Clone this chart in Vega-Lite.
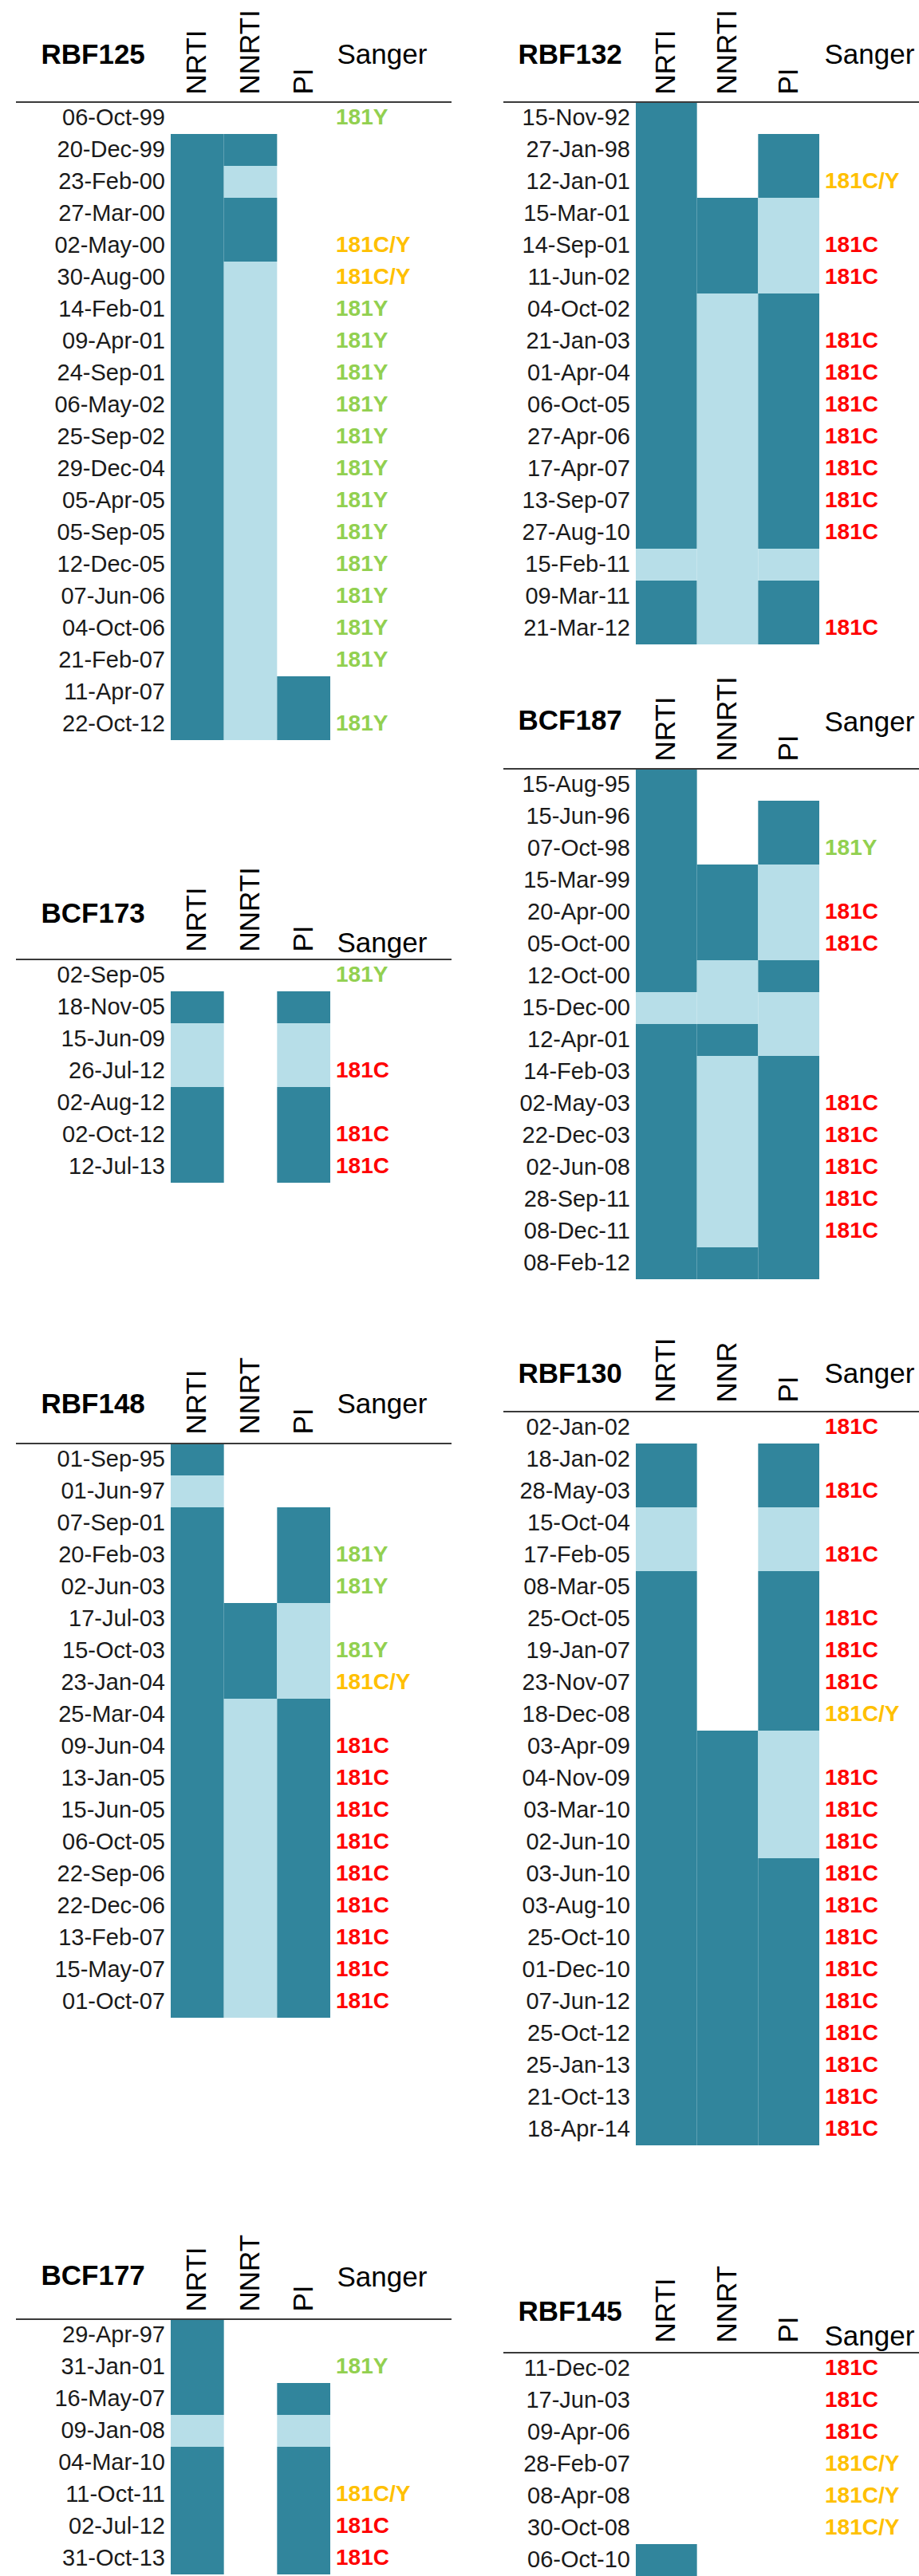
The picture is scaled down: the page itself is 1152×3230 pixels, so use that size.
{
  "$schema": "https://vega.github.io/schema/vega-lite/v6.json",
  "padding": {"left": 19, "top": 11, "right": 0, "bottom": 0},
  "autosize": {"type": "pad"},
  "config": {"font": "Liberation Sans", "view": {"stroke": null}, "axis": {"grid": false}},
  "data": {"values": [
    {"p":"RBF125","n":1,"date":"06-Oct-99","NRTI":"","NNRTI":"","PI":"","s":"181Y"},
    {"p":"RBF125","n":2,"date":"20-Dec-99","NRTI":"F","NNRTI":"F","PI":"","s":""},
    {"p":"RBF125","n":3,"date":"23-Feb-00","NRTI":"F","NNRTI":"P","PI":"","s":""},
    {"p":"RBF125","n":4,"date":"27-Mar-00","NRTI":"F","NNRTI":"F","PI":"","s":""},
    {"p":"RBF125","n":5,"date":"02-May-00","NRTI":"F","NNRTI":"F","PI":"","s":"181C/Y"},
    {"p":"RBF125","n":6,"date":"30-Aug-00","NRTI":"F","NNRTI":"P","PI":"","s":"181C/Y"},
    {"p":"RBF125","n":7,"date":"14-Feb-01","NRTI":"F","NNRTI":"P","PI":"","s":"181Y"},
    {"p":"RBF125","n":8,"date":"09-Apr-01","NRTI":"F","NNRTI":"P","PI":"","s":"181Y"},
    {"p":"RBF125","n":9,"date":"24-Sep-01","NRTI":"F","NNRTI":"P","PI":"","s":"181Y"},
    {"p":"RBF125","n":10,"date":"06-May-02","NRTI":"F","NNRTI":"P","PI":"","s":"181Y"},
    {"p":"RBF125","n":11,"date":"25-Sep-02","NRTI":"F","NNRTI":"P","PI":"","s":"181Y"},
    {"p":"RBF125","n":12,"date":"29-Dec-04","NRTI":"F","NNRTI":"P","PI":"","s":"181Y"},
    {"p":"RBF125","n":13,"date":"05-Apr-05","NRTI":"F","NNRTI":"P","PI":"","s":"181Y"},
    {"p":"RBF125","n":14,"date":"05-Sep-05","NRTI":"F","NNRTI":"P","PI":"","s":"181Y"},
    {"p":"RBF125","n":15,"date":"12-Dec-05","NRTI":"F","NNRTI":"P","PI":"","s":"181Y"},
    {"p":"RBF125","n":16,"date":"07-Jun-06","NRTI":"F","NNRTI":"P","PI":"","s":"181Y"},
    {"p":"RBF125","n":17,"date":"04-Oct-06","NRTI":"F","NNRTI":"P","PI":"","s":"181Y"},
    {"p":"RBF125","n":18,"date":"21-Feb-07","NRTI":"F","NNRTI":"P","PI":"","s":"181Y"},
    {"p":"RBF125","n":19,"date":"11-Apr-07","NRTI":"F","NNRTI":"P","PI":"F","s":""},
    {"p":"RBF125","n":20,"date":"22-Oct-12","NRTI":"F","NNRTI":"P","PI":"F","s":"181Y"},

    {"p":"RBF132","n":1,"date":"15-Nov-92","NRTI":"F","NNRTI":"","PI":"","s":""},
    {"p":"RBF132","n":2,"date":"27-Jan-98","NRTI":"F","NNRTI":"","PI":"F","s":""},
    {"p":"RBF132","n":3,"date":"12-Jan-01","NRTI":"F","NNRTI":"","PI":"F","s":"181C/Y"},
    {"p":"RBF132","n":4,"date":"15-Mar-01","NRTI":"F","NNRTI":"F","PI":"P","s":""},
    {"p":"RBF132","n":5,"date":"14-Sep-01","NRTI":"F","NNRTI":"F","PI":"P","s":"181C"},
    {"p":"RBF132","n":6,"date":"11-Jun-02","NRTI":"F","NNRTI":"F","PI":"P","s":"181C"},
    {"p":"RBF132","n":7,"date":"04-Oct-02","NRTI":"F","NNRTI":"P","PI":"F","s":""},
    {"p":"RBF132","n":8,"date":"21-Jan-03","NRTI":"F","NNRTI":"P","PI":"F","s":"181C"},
    {"p":"RBF132","n":9,"date":"01-Apr-04","NRTI":"F","NNRTI":"P","PI":"F","s":"181C"},
    {"p":"RBF132","n":10,"date":"06-Oct-05","NRTI":"F","NNRTI":"P","PI":"F","s":"181C"},
    {"p":"RBF132","n":11,"date":"27-Apr-06","NRTI":"F","NNRTI":"P","PI":"F","s":"181C"},
    {"p":"RBF132","n":12,"date":"17-Apr-07","NRTI":"F","NNRTI":"P","PI":"F","s":"181C"},
    {"p":"RBF132","n":13,"date":"13-Sep-07","NRTI":"F","NNRTI":"P","PI":"F","s":"181C"},
    {"p":"RBF132","n":14,"date":"27-Aug-10","NRTI":"F","NNRTI":"P","PI":"F","s":"181C"},
    {"p":"RBF132","n":15,"date":"15-Feb-11","NRTI":"P","NNRTI":"P","PI":"P","s":""},
    {"p":"RBF132","n":16,"date":"09-Mar-11","NRTI":"F","NNRTI":"P","PI":"F","s":""},
    {"p":"RBF132","n":17,"date":"21-Mar-12","NRTI":"F","NNRTI":"P","PI":"F","s":"181C"},

    {"p":"BCF173","n":1,"date":"02-Sep-05","NRTI":"","NNRTI":"","PI":"","s":"181Y"},
    {"p":"BCF173","n":2,"date":"18-Nov-05","NRTI":"F","NNRTI":"","PI":"F","s":""},
    {"p":"BCF173","n":3,"date":"15-Jun-09","NRTI":"P","NNRTI":"","PI":"P","s":""},
    {"p":"BCF173","n":4,"date":"26-Jul-12","NRTI":"P","NNRTI":"","PI":"P","s":"181C"},
    {"p":"BCF173","n":5,"date":"02-Aug-12","NRTI":"F","NNRTI":"","PI":"F","s":""},
    {"p":"BCF173","n":6,"date":"02-Oct-12","NRTI":"F","NNRTI":"","PI":"F","s":"181C"},
    {"p":"BCF173","n":7,"date":"12-Jul-13","NRTI":"F","NNRTI":"","PI":"F","s":"181C"},

    {"p":"BCF187","n":1,"date":"15-Aug-95","NRTI":"F","NNRTI":"","PI":"","s":""},
    {"p":"BCF187","n":2,"date":"15-Jun-96","NRTI":"F","NNRTI":"","PI":"F","s":""},
    {"p":"BCF187","n":3,"date":"07-Oct-98","NRTI":"F","NNRTI":"","PI":"F","s":"181Y"},
    {"p":"BCF187","n":4,"date":"15-Mar-99","NRTI":"F","NNRTI":"F","PI":"P","s":""},
    {"p":"BCF187","n":5,"date":"20-Apr-00","NRTI":"F","NNRTI":"F","PI":"P","s":"181C"},
    {"p":"BCF187","n":6,"date":"05-Oct-00","NRTI":"F","NNRTI":"F","PI":"P","s":"181C"},
    {"p":"BCF187","n":7,"date":"12-Oct-00","NRTI":"F","NNRTI":"P","PI":"F","s":""},
    {"p":"BCF187","n":8,"date":"15-Dec-00","NRTI":"P","NNRTI":"P","PI":"P","s":""},
    {"p":"BCF187","n":9,"date":"12-Apr-01","NRTI":"F","NNRTI":"F","PI":"P","s":""},
    {"p":"BCF187","n":10,"date":"14-Feb-03","NRTI":"F","NNRTI":"P","PI":"F","s":""},
    {"p":"BCF187","n":11,"date":"02-May-03","NRTI":"F","NNRTI":"P","PI":"F","s":"181C"},
    {"p":"BCF187","n":12,"date":"22-Dec-03","NRTI":"F","NNRTI":"P","PI":"F","s":"181C"},
    {"p":"BCF187","n":13,"date":"02-Jun-08","NRTI":"F","NNRTI":"P","PI":"F","s":"181C"},
    {"p":"BCF187","n":14,"date":"28-Sep-11","NRTI":"F","NNRTI":"P","PI":"F","s":"181C"},
    {"p":"BCF187","n":15,"date":"08-Dec-11","NRTI":"F","NNRTI":"P","PI":"F","s":"181C"},
    {"p":"BCF187","n":16,"date":"08-Feb-12","NRTI":"F","NNRTI":"F","PI":"F","s":""},

    {"p":"RBF148","n":1,"date":"01-Sep-95","NRTI":"F","NNRTI":"","PI":"","s":""},
    {"p":"RBF148","n":2,"date":"01-Jun-97","NRTI":"P","NNRTI":"","PI":"","s":""},
    {"p":"RBF148","n":3,"date":"07-Sep-01","NRTI":"F","NNRTI":"","PI":"F","s":""},
    {"p":"RBF148","n":4,"date":"20-Feb-03","NRTI":"F","NNRTI":"","PI":"F","s":"181Y"},
    {"p":"RBF148","n":5,"date":"02-Jun-03","NRTI":"F","NNRTI":"","PI":"F","s":"181Y"},
    {"p":"RBF148","n":6,"date":"17-Jul-03","NRTI":"F","NNRTI":"F","PI":"P","s":""},
    {"p":"RBF148","n":7,"date":"15-Oct-03","NRTI":"F","NNRTI":"F","PI":"P","s":"181Y"},
    {"p":"RBF148","n":8,"date":"23-Jan-04","NRTI":"F","NNRTI":"F","PI":"P","s":"181C/Y"},
    {"p":"RBF148","n":9,"date":"25-Mar-04","NRTI":"F","NNRTI":"P","PI":"F","s":""},
    {"p":"RBF148","n":10,"date":"09-Jun-04","NRTI":"F","NNRTI":"P","PI":"F","s":"181C"},
    {"p":"RBF148","n":11,"date":"13-Jan-05","NRTI":"F","NNRTI":"P","PI":"F","s":"181C"},
    {"p":"RBF148","n":12,"date":"15-Jun-05","NRTI":"F","NNRTI":"P","PI":"F","s":"181C"},
    {"p":"RBF148","n":13,"date":"06-Oct-05","NRTI":"F","NNRTI":"P","PI":"F","s":"181C"},
    {"p":"RBF148","n":14,"date":"22-Sep-06","NRTI":"F","NNRTI":"P","PI":"F","s":"181C"},
    {"p":"RBF148","n":15,"date":"22-Dec-06","NRTI":"F","NNRTI":"P","PI":"F","s":"181C"},
    {"p":"RBF148","n":16,"date":"13-Feb-07","NRTI":"F","NNRTI":"P","PI":"F","s":"181C"},
    {"p":"RBF148","n":17,"date":"15-May-07","NRTI":"F","NNRTI":"P","PI":"F","s":"181C"},
    {"p":"RBF148","n":18,"date":"01-Oct-07","NRTI":"F","NNRTI":"P","PI":"F","s":"181C"},

    {"p":"RBF130","n":1,"date":"02-Jan-02","NRTI":"","NNRTI":"","PI":"","s":"181C"},
    {"p":"RBF130","n":2,"date":"18-Jan-02","NRTI":"F","NNRTI":"","PI":"F","s":""},
    {"p":"RBF130","n":3,"date":"28-May-03","NRTI":"F","NNRTI":"","PI":"F","s":"181C"},
    {"p":"RBF130","n":4,"date":"15-Oct-04","NRTI":"P","NNRTI":"","PI":"P","s":""},
    {"p":"RBF130","n":5,"date":"17-Feb-05","NRTI":"P","NNRTI":"","PI":"P","s":"181C"},
    {"p":"RBF130","n":6,"date":"08-Mar-05","NRTI":"F","NNRTI":"","PI":"F","s":""},
    {"p":"RBF130","n":7,"date":"25-Oct-05","NRTI":"F","NNRTI":"","PI":"F","s":"181C"},
    {"p":"RBF130","n":8,"date":"19-Jan-07","NRTI":"F","NNRTI":"","PI":"F","s":"181C"},
    {"p":"RBF130","n":9,"date":"23-Nov-07","NRTI":"F","NNRTI":"","PI":"F","s":"181C"},
    {"p":"RBF130","n":10,"date":"18-Dec-08","NRTI":"F","NNRTI":"","PI":"F","s":"181C/Y"},
    {"p":"RBF130","n":11,"date":"03-Apr-09","NRTI":"F","NNRTI":"F","PI":"P","s":""},
    {"p":"RBF130","n":12,"date":"04-Nov-09","NRTI":"F","NNRTI":"F","PI":"P","s":"181C"},
    {"p":"RBF130","n":13,"date":"03-Mar-10","NRTI":"F","NNRTI":"F","PI":"P","s":"181C"},
    {"p":"RBF130","n":14,"date":"02-Jun-10","NRTI":"F","NNRTI":"F","PI":"P","s":"181C"},
    {"p":"RBF130","n":15,"date":"03-Jun-10","NRTI":"F","NNRTI":"F","PI":"F","s":"181C"},
    {"p":"RBF130","n":16,"date":"03-Aug-10","NRTI":"F","NNRTI":"F","PI":"F","s":"181C"},
    {"p":"RBF130","n":17,"date":"25-Oct-10","NRTI":"F","NNRTI":"F","PI":"F","s":"181C"},
    {"p":"RBF130","n":18,"date":"01-Dec-10","NRTI":"F","NNRTI":"F","PI":"F","s":"181C"},
    {"p":"RBF130","n":19,"date":"07-Jun-12","NRTI":"F","NNRTI":"F","PI":"F","s":"181C"},
    {"p":"RBF130","n":20,"date":"25-Oct-12","NRTI":"F","NNRTI":"F","PI":"F","s":"181C"},
    {"p":"RBF130","n":21,"date":"25-Jan-13","NRTI":"F","NNRTI":"F","PI":"F","s":"181C"},
    {"p":"RBF130","n":22,"date":"21-Oct-13","NRTI":"F","NNRTI":"F","PI":"F","s":"181C"},
    {"p":"RBF130","n":23,"date":"18-Apr-14","NRTI":"F","NNRTI":"F","PI":"F","s":"181C"},

    {"p":"BCF177","n":1,"date":"29-Apr-97","NRTI":"F","NNRTI":"","PI":"","s":""},
    {"p":"BCF177","n":2,"date":"31-Jan-01","NRTI":"F","NNRTI":"","PI":"","s":"181Y"},
    {"p":"BCF177","n":3,"date":"16-May-07","NRTI":"F","NNRTI":"","PI":"F","s":""},
    {"p":"BCF177","n":4,"date":"09-Jan-08","NRTI":"P","NNRTI":"","PI":"P","s":""},
    {"p":"BCF177","n":5,"date":"04-Mar-10","NRTI":"F","NNRTI":"","PI":"F","s":""},
    {"p":"BCF177","n":6,"date":"11-Oct-11","NRTI":"F","NNRTI":"","PI":"F","s":"181C/Y"},
    {"p":"BCF177","n":7,"date":"02-Jul-12","NRTI":"F","NNRTI":"","PI":"F","s":"181C"},
    {"p":"BCF177","n":8,"date":"31-Oct-13","NRTI":"F","NNRTI":"","PI":"F","s":"181C"},

    {"p":"RBF145","n":1,"date":"11-Dec-02","NRTI":"","NNRTI":"","PI":"","s":"181C"},
    {"p":"RBF145","n":2,"date":"17-Jun-03","NRTI":"","NNRTI":"","PI":"","s":"181C"},
    {"p":"RBF145","n":3,"date":"09-Apr-06","NRTI":"","NNRTI":"","PI":"","s":"181C"},
    {"p":"RBF145","n":4,"date":"28-Feb-07","NRTI":"","NNRTI":"","PI":"","s":"181C/Y"},
    {"p":"RBF145","n":5,"date":"08-Apr-08","NRTI":"","NNRTI":"","PI":"","s":"181C/Y"},
    {"p":"RBF145","n":6,"date":"30-Oct-08","NRTI":"","NNRTI":"","PI":"","s":"181C/Y"},
    {"p":"RBF145","n":7,"date":"06-Oct-10","NRTI":"F","NNRTI":"","PI":"","s":""}
  ]},
  "spacing": 63,
  "hconcat": [
    {
      "bounds": "flush",
      "spacing": 0,
      "vconcat": [
        {
          "width": 546, "height": 1075,
          "transform": [{"filter": "datum.p == 'RBF125'"}],
          "resolve": {"scale": {"color": "independent"}},
          "encoding": {"y": {"field": "n", "type": "ordinal", "scale": {"range": [0, 800], "paddingInner": 0, "paddingOuter": 0},
            "axis": {"title": "RBF125", "labels": false, "ticks": false, "domain": false, "titleAngle": 0, "titleX": 31, "titleY": -60, "titleAlign": "left", "titleBaseline": "middle", "titleFontSize": 35, "titleFontWeight": "bold", "titleColor": "#000000"}}},
          "layer": [
            {"transform": [{"fold": ["NRTI", "NNRTI", "PI"], "as": ["cls", "st"]}, {"filter": "datum.st != ''"}],
             "mark": {"type": "rect"},
             "encoding": {
               "x": {"field": "cls", "type": "nominal", "scale": {"domain": ["NRTI", "NNRTI", "PI"], "range": [194, 394], "paddingInner": 0, "paddingOuter": 0},
                 "axis": {"orient": "top", "title": "Sanger", "labelAngle": -90, "labelFontSize": 35, "labelColor": "#000000", "labelPadding": 10, "ticks": false, "domain": false, "labelOverlap": false, "labelLimit": 300, "titleX": 402, "titleY": -60, "titleAngle": 0, "titleAlign": "left", "titleBaseline": "middle", "titleFontSize": 35, "titleFontWeight": "normal", "titleColor": "#000000"}},
               "color": {"field": "st", "type": "nominal", "scale": {"domain": ["F", "P"], "range": ["#31859C", "#B7DEE8"]}, "legend": null}}},
            {"mark": {"type": "text", "align": "right", "dx": -7, "fontSize": 29, "color": "#1a1a1a"},
             "encoding": {"x": {"datum": "NRTI", "type": "nominal", "bandPosition": 0}, "text": {"field": "date", "type": "nominal"}}},
            {"transform": [{"filter": "datum.s != ''"}],
             "mark": {"type": "text", "align": "left", "dx": 7, "fontSize": 28, "fontWeight": "bold"},
             "encoding": {"x": {"datum": "PI", "type": "nominal", "bandPosition": 1}, "text": {"field": "s", "type": "nominal"},
               "color": {"field": "s", "type": "nominal", "scale": {"domain": ["181Y", "181C/Y", "181C"], "range": ["#92D050", "#FFC000", "#FF0000"]}, "legend": null}}},
            {"transform": [{"filter": "datum.n == 1"}],
             "mark": {"type": "rule", "color": "#3a3a3a", "strokeWidth": 2},
             "encoding": {"y": {"datum": 1, "type": "ordinal", "bandPosition": 0}}}
          ]
        },
        {
          "width": 546, "height": 607,
          "transform": [{"filter": "datum.p == 'BCF173'"}],
          "resolve": {"scale": {"color": "independent"}},
          "encoding": {"y": {"field": "n", "type": "ordinal", "scale": {"range": [0, 280], "paddingInner": 0, "paddingOuter": 0},
            "axis": {"title": "BCF173", "labels": false, "ticks": false, "domain": false, "titleAngle": 0, "titleX": 31, "titleY": -58, "titleAlign": "left", "titleBaseline": "middle", "titleFontSize": 35, "titleFontWeight": "bold", "titleColor": "#000000"}}},
          "layer": [
            {"transform": [{"fold": ["NRTI", "NNRTI", "PI"], "as": ["cls", "st"]}, {"filter": "datum.st != ''"}],
             "mark": {"type": "rect"},
             "encoding": {
               "x": {"field": "cls", "type": "nominal", "scale": {"domain": ["NRTI", "NNRTI", "PI"], "range": [194, 394], "paddingInner": 0, "paddingOuter": 0},
                 "axis": {"orient": "top", "title": "Sanger", "labelAngle": -90, "labelFontSize": 35, "labelColor": "#000000", "labelPadding": 10, "ticks": false, "domain": false, "labelOverlap": false, "labelLimit": 300, "titleX": 402, "titleY": -21, "titleAngle": 0, "titleAlign": "left", "titleBaseline": "middle", "titleFontSize": 35, "titleFontWeight": "normal", "titleColor": "#000000"}},
               "color": {"field": "st", "type": "nominal", "scale": {"domain": ["F", "P"], "range": ["#31859C", "#B7DEE8"]}, "legend": null}}},
            {"mark": {"type": "text", "align": "right", "dx": -7, "fontSize": 29, "color": "#1a1a1a"},
             "encoding": {"x": {"datum": "NRTI", "type": "nominal", "bandPosition": 0}, "text": {"field": "date", "type": "nominal"}}},
            {"transform": [{"filter": "datum.s != ''"}],
             "mark": {"type": "text", "align": "left", "dx": 7, "fontSize": 28, "fontWeight": "bold"},
             "encoding": {"x": {"datum": "PI", "type": "nominal", "bandPosition": 1}, "text": {"field": "s", "type": "nominal"},
               "color": {"field": "s", "type": "nominal", "scale": {"domain": ["181Y", "181C/Y", "181C"], "range": ["#92D050", "#FFC000", "#FF0000"]}, "legend": null}}},
            {"transform": [{"filter": "datum.n == 1"}],
             "mark": {"type": "rule", "color": "#3a3a3a", "strokeWidth": 2},
             "encoding": {"y": {"datum": 1, "type": "ordinal", "bandPosition": 0}}}
          ]
        },
        {
          "width": 546, "height": 1098,
          "transform": [{"filter": "datum.p == 'RBF148'"}],
          "resolve": {"scale": {"color": "independent"}},
          "encoding": {"y": {"field": "n", "type": "ordinal", "scale": {"range": [0, 720], "paddingInner": 0, "paddingOuter": 0},
            "axis": {"title": "RBF148", "labels": false, "ticks": false, "domain": false, "titleAngle": 0, "titleX": 31, "titleY": -50, "titleAlign": "left", "titleBaseline": "middle", "titleFontSize": 35, "titleFontWeight": "bold", "titleColor": "#000000"}}},
          "layer": [
            {"transform": [{"fold": ["NRTI", "NNRTI", "PI"], "as": ["cls", "st"]}, {"filter": "datum.st != ''"}],
             "mark": {"type": "rect"},
             "encoding": {
               "x": {"field": "cls", "type": "nominal", "scale": {"domain": ["NRTI", "NNRTI", "PI"], "range": [194, 394], "paddingInner": 0, "paddingOuter": 0},
                 "axis": {"orient": "top", "title": "Sanger", "labelExpr": "datum.value == 'NNRTI' ? 'NNRT' : datum.value", "labelAngle": -90, "labelFontSize": 35, "labelColor": "#000000", "labelPadding": 12, "ticks": false, "domain": false, "labelOverlap": false, "labelLimit": 300, "titleX": 402, "titleY": -50, "titleAngle": 0, "titleAlign": "left", "titleBaseline": "middle", "titleFontSize": 35, "titleFontWeight": "normal", "titleColor": "#000000"}},
               "color": {"field": "st", "type": "nominal", "scale": {"domain": ["F", "P"], "range": ["#31859C", "#B7DEE8"]}, "legend": null}}},
            {"mark": {"type": "text", "align": "right", "dx": -7, "fontSize": 29, "color": "#1a1a1a"},
             "encoding": {"x": {"datum": "NRTI", "type": "nominal", "bandPosition": 0}, "text": {"field": "date", "type": "nominal"}}},
            {"transform": [{"filter": "datum.s != ''"}],
             "mark": {"type": "text", "align": "left", "dx": 7, "fontSize": 28, "fontWeight": "bold"},
             "encoding": {"x": {"datum": "PI", "type": "nominal", "bandPosition": 1}, "text": {"field": "s", "type": "nominal"},
               "color": {"field": "s", "type": "nominal", "scale": {"domain": ["181Y", "181C/Y", "181C"], "range": ["#92D050", "#FFC000", "#FF0000"]}, "legend": null}}},
            {"transform": [{"filter": "datum.n == 1"}],
             "mark": {"type": "rule", "color": "#3a3a3a", "strokeWidth": 2},
             "encoding": {"y": {"datum": 1, "type": "ordinal", "bandPosition": 0}}}
          ]
        },
        {
          "width": 546, "height": 322,
          "transform": [{"filter": "datum.p == 'BCF177'"}],
          "resolve": {"scale": {"color": "independent"}},
          "encoding": {"y": {"field": "n", "type": "ordinal", "scale": {"range": [0, 320], "paddingInner": 0, "paddingOuter": 0},
            "axis": {"title": "BCF177", "labels": false, "ticks": false, "domain": false, "titleAngle": 0, "titleX": 31, "titleY": -55, "titleAlign": "left", "titleBaseline": "middle", "titleFontSize": 35, "titleFontWeight": "bold", "titleColor": "#000000"}}},
          "layer": [
            {"transform": [{"fold": ["NRTI", "NNRTI", "PI"], "as": ["cls", "st"]}, {"filter": "datum.st != ''"}],
             "mark": {"type": "rect"},
             "encoding": {
               "x": {"field": "cls", "type": "nominal", "scale": {"domain": ["NRTI", "NNRTI", "PI"], "range": [194, 394], "paddingInner": 0, "paddingOuter": 0},
                 "axis": {"orient": "top", "title": "Sanger", "labelExpr": "datum.value == 'NNRTI' ? 'NNRT' : datum.value", "labelAngle": -90, "labelFontSize": 35, "labelColor": "#000000", "labelPadding": 10, "ticks": false, "domain": false, "labelOverlap": false, "labelLimit": 300, "titleX": 402, "titleY": -53, "titleAngle": 0, "titleAlign": "left", "titleBaseline": "middle", "titleFontSize": 35, "titleFontWeight": "normal", "titleColor": "#000000"}},
               "color": {"field": "st", "type": "nominal", "scale": {"domain": ["F", "P"], "range": ["#31859C", "#B7DEE8"]}, "legend": null}}},
            {"mark": {"type": "text", "align": "right", "dx": -7, "fontSize": 29, "color": "#1a1a1a"},
             "encoding": {"x": {"datum": "NRTI", "type": "nominal", "bandPosition": 0}, "text": {"field": "date", "type": "nominal"}}},
            {"transform": [{"filter": "datum.s != ''"}],
             "mark": {"type": "text", "align": "left", "dx": 7, "fontSize": 28, "fontWeight": "bold"},
             "encoding": {"x": {"datum": "PI", "type": "nominal", "bandPosition": 1}, "text": {"field": "s", "type": "nominal"},
               "color": {"field": "s", "type": "nominal", "scale": {"domain": ["181Y", "181C/Y", "181C"], "range": ["#92D050", "#FFC000", "#FF0000"]}, "legend": null}}},
            {"transform": [{"filter": "datum.n == 1"}],
             "mark": {"type": "rule", "color": "#3a3a3a", "strokeWidth": 2},
             "encoding": {"y": {"datum": 1, "type": "ordinal", "bandPosition": 0}}}
          ]
        }
      ]
    },
    {
      "bounds": "flush",
      "spacing": 0,
      "vconcat": [
        {
          "width": 521, "height": 836,
          "transform": [{"filter": "datum.p == 'RBF132'"}],
          "resolve": {"scale": {"color": "independent"}},
          "encoding": {"y": {"field": "n", "type": "ordinal", "scale": {"range": [0, 680], "paddingInner": 0, "paddingOuter": 0},
            "axis": {"title": "RBF132", "labels": false, "ticks": false, "domain": false, "titleAngle": 0, "titleX": 18, "titleY": -60, "titleAlign": "left", "titleBaseline": "middle", "titleFontSize": 35, "titleFontWeight": "bold", "titleColor": "#000000"}}},
          "layer": [
            {"transform": [{"fold": ["NRTI", "NNRTI", "PI"], "as": ["cls", "st"]}, {"filter": "datum.st != ''"}],
             "mark": {"type": "rect"},
             "encoding": {
               "x": {"field": "cls", "type": "nominal", "scale": {"domain": ["NRTI", "NNRTI", "PI"], "range": [166, 396], "paddingInner": 0, "paddingOuter": 0},
                 "axis": {"orient": "top", "title": "Sanger", "labelAngle": -90, "labelFontSize": 35, "labelColor": "#000000", "labelPadding": 10, "ticks": false, "domain": false, "labelOverlap": false, "labelLimit": 300, "titleX": 402, "titleY": -60, "titleAngle": 0, "titleAlign": "left", "titleBaseline": "middle", "titleFontSize": 35, "titleFontWeight": "normal", "titleColor": "#000000"}},
               "color": {"field": "st", "type": "nominal", "scale": {"domain": ["F", "P"], "range": ["#31859C", "#B7DEE8"]}, "legend": null}}},
            {"mark": {"type": "text", "align": "right", "dx": -7, "fontSize": 29, "color": "#1a1a1a"},
             "encoding": {"x": {"datum": "NRTI", "type": "nominal", "bandPosition": 0}, "text": {"field": "date", "type": "nominal"}}},
            {"transform": [{"filter": "datum.s != ''"}],
             "mark": {"type": "text", "align": "left", "dx": 7, "fontSize": 28, "fontWeight": "bold"},
             "encoding": {"x": {"datum": "PI", "type": "nominal", "bandPosition": 1}, "text": {"field": "s", "type": "nominal"},
               "color": {"field": "s", "type": "nominal", "scale": {"domain": ["181Y", "181C/Y", "181C"], "range": ["#92D050", "#FFC000", "#FF0000"]}, "legend": null}}},
            {"transform": [{"filter": "datum.n == 1"}],
             "mark": {"type": "rule", "color": "#3a3a3a", "strokeWidth": 2},
             "encoding": {"y": {"datum": 1, "type": "ordinal", "bandPosition": 0}}}
          ]
        },
        {
          "width": 521, "height": 806,
          "transform": [{"filter": "datum.p == 'BCF187'"}],
          "resolve": {"scale": {"color": "independent"}},
          "encoding": {"y": {"field": "n", "type": "ordinal", "scale": {"range": [0, 640], "paddingInner": 0, "paddingOuter": 0},
            "axis": {"title": "BCF187", "labels": false, "ticks": false, "domain": false, "titleAngle": 0, "titleX": 18, "titleY": -61, "titleAlign": "left", "titleBaseline": "middle", "titleFontSize": 35, "titleFontWeight": "bold", "titleColor": "#000000"}}},
          "layer": [
            {"transform": [{"fold": ["NRTI", "NNRTI", "PI"], "as": ["cls", "st"]}, {"filter": "datum.st != ''"}],
             "mark": {"type": "rect"},
             "encoding": {
               "x": {"field": "cls", "type": "nominal", "scale": {"domain": ["NRTI", "NNRTI", "PI"], "range": [166, 396], "paddingInner": 0, "paddingOuter": 0},
                 "axis": {"orient": "top", "title": "Sanger", "labelAngle": -90, "labelFontSize": 35, "labelColor": "#000000", "labelPadding": 10, "ticks": false, "domain": false, "labelOverlap": false, "labelLimit": 300, "titleX": 402, "titleY": -59, "titleAngle": 0, "titleAlign": "left", "titleBaseline": "middle", "titleFontSize": 35, "titleFontWeight": "normal", "titleColor": "#000000"}},
               "color": {"field": "st", "type": "nominal", "scale": {"domain": ["F", "P"], "range": ["#31859C", "#B7DEE8"]}, "legend": null}}},
            {"mark": {"type": "text", "align": "right", "dx": -7, "fontSize": 29, "color": "#1a1a1a"},
             "encoding": {"x": {"datum": "NRTI", "type": "nominal", "bandPosition": 0}, "text": {"field": "date", "type": "nominal"}}},
            {"transform": [{"filter": "datum.s != ''"}],
             "mark": {"type": "text", "align": "left", "dx": 7, "fontSize": 28, "fontWeight": "bold"},
             "encoding": {"x": {"datum": "PI", "type": "nominal", "bandPosition": 1}, "text": {"field": "s", "type": "nominal"},
               "color": {"field": "s", "type": "nominal", "scale": {"domain": ["181Y", "181C/Y", "181C"], "range": ["#92D050", "#FFC000", "#FF0000"]}, "legend": null}}},
            {"transform": [{"filter": "datum.n == 1"}],
             "mark": {"type": "rule", "color": "#3a3a3a", "strokeWidth": 2},
             "encoding": {"y": {"datum": 1, "type": "ordinal", "bandPosition": 0}}}
          ]
        },
        {
          "width": 521, "height": 1180,
          "transform": [{"filter": "datum.p == 'RBF130'"}],
          "resolve": {"scale": {"color": "independent"}},
          "encoding": {"y": {"field": "n", "type": "ordinal", "scale": {"range": [0, 920], "paddingInner": 0, "paddingOuter": 0},
            "axis": {"title": "RBF130", "labels": false, "ticks": false, "domain": false, "titleAngle": 0, "titleX": 18, "titleY": -48, "titleAlign": "left", "titleBaseline": "middle", "titleFontSize": 35, "titleFontWeight": "bold", "titleColor": "#000000"}}},
          "layer": [
            {"transform": [{"fold": ["NRTI", "NNRTI", "PI"], "as": ["cls", "st"]}, {"filter": "datum.st != ''"}],
             "mark": {"type": "rect"},
             "encoding": {
               "x": {"field": "cls", "type": "nominal", "scale": {"domain": ["NRTI", "NNRTI", "PI"], "range": [166, 396], "paddingInner": 0, "paddingOuter": 0},
                 "axis": {"orient": "top", "title": "Sanger", "labelExpr": "datum.value == 'NNRTI' ? 'NNR' : datum.value", "labelAngle": -90, "labelFontSize": 35, "labelColor": "#000000", "labelPadding": 12, "ticks": false, "domain": false, "labelOverlap": false, "labelLimit": 300, "titleX": 402, "titleY": -48, "titleAngle": 0, "titleAlign": "left", "titleBaseline": "middle", "titleFontSize": 35, "titleFontWeight": "normal", "titleColor": "#000000"}},
               "color": {"field": "st", "type": "nominal", "scale": {"domain": ["F", "P"], "range": ["#31859C", "#B7DEE8"]}, "legend": null}}},
            {"mark": {"type": "text", "align": "right", "dx": -7, "fontSize": 29, "color": "#1a1a1a"},
             "encoding": {"x": {"datum": "NRTI", "type": "nominal", "bandPosition": 0}, "text": {"field": "date", "type": "nominal"}}},
            {"transform": [{"filter": "datum.s != ''"}],
             "mark": {"type": "text", "align": "left", "dx": 7, "fontSize": 28, "fontWeight": "bold"},
             "encoding": {"x": {"datum": "PI", "type": "nominal", "bandPosition": 1}, "text": {"field": "s", "type": "nominal"},
               "color": {"field": "s", "type": "nominal", "scale": {"domain": ["181Y", "181C/Y", "181C"], "range": ["#92D050", "#FFC000", "#FF0000"]}, "legend": null}}},
            {"transform": [{"filter": "datum.n == 1"}],
             "mark": {"type": "rule", "color": "#3a3a3a", "strokeWidth": 2},
             "encoding": {"y": {"datum": 1, "type": "ordinal", "bandPosition": 0}}}
          ]
        },
        {
          "width": 521, "height": 280,
          "transform": [{"filter": "datum.p == 'RBF145'"}],
          "resolve": {"scale": {"color": "independent"}},
          "encoding": {"y": {"field": "n", "type": "ordinal", "scale": {"range": [0, 280], "paddingInner": 0, "paddingOuter": 0},
            "axis": {"title": "RBF145", "labels": false, "ticks": false, "domain": false, "titleAngle": 0, "titleX": 18, "titleY": -52, "titleAlign": "left", "titleBaseline": "middle", "titleFontSize": 35, "titleFontWeight": "bold", "titleColor": "#000000"}}},
          "layer": [
            {"transform": [{"fold": ["NRTI", "NNRTI", "PI"], "as": ["cls", "st"]}, {"filter": "datum.st != ''"}],
             "mark": {"type": "rect"},
             "encoding": {
               "x": {"field": "cls", "type": "nominal", "scale": {"domain": ["NRTI", "NNRTI", "PI"], "range": [166, 396], "paddingInner": 0, "paddingOuter": 0},
                 "axis": {"orient": "top", "title": "Sanger", "labelExpr": "datum.value == 'NNRTI' ? 'NNRT' : datum.value", "labelAngle": -90, "labelFontSize": 35, "labelColor": "#000000", "labelPadding": 13, "ticks": false, "domain": false, "labelOverlap": false, "labelLimit": 300, "titleX": 402, "titleY": -21, "titleAngle": 0, "titleAlign": "left", "titleBaseline": "middle", "titleFontSize": 35, "titleFontWeight": "normal", "titleColor": "#000000"}},
               "color": {"field": "st", "type": "nominal", "scale": {"domain": ["F", "P"], "range": ["#31859C", "#B7DEE8"]}, "legend": null}}},
            {"mark": {"type": "text", "align": "right", "dx": -7, "fontSize": 29, "color": "#1a1a1a"},
             "encoding": {"x": {"datum": "NRTI", "type": "nominal", "bandPosition": 0}, "text": {"field": "date", "type": "nominal"}}},
            {"transform": [{"filter": "datum.s != ''"}],
             "mark": {"type": "text", "align": "left", "dx": 7, "fontSize": 28, "fontWeight": "bold"},
             "encoding": {"x": {"datum": "PI", "type": "nominal", "bandPosition": 1}, "text": {"field": "s", "type": "nominal"},
               "color": {"field": "s", "type": "nominal", "scale": {"domain": ["181Y", "181C/Y", "181C"], "range": ["#92D050", "#FFC000", "#FF0000"]}, "legend": null}}},
            {"transform": [{"filter": "datum.n == 1"}],
             "mark": {"type": "rule", "color": "#3a3a3a", "strokeWidth": 2},
             "encoding": {"y": {"datum": 1, "type": "ordinal", "bandPosition": 0}}}
          ]
        }
      ]
    }
  ]
}
